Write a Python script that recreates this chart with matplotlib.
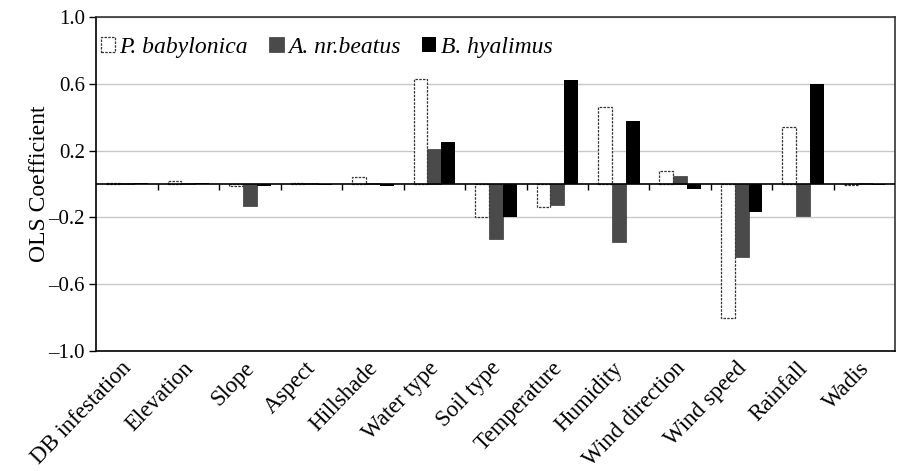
import numpy as np
import matplotlib
matplotlib.use("Agg")
import matplotlib.pyplot as plt

plt.rcParams['font.family'] = ['Liberation Serif', 'DejaVu Serif']

categories = ["DB infestation", "Elevation", "Slope", "Aspect", "Hillshade",
              "Water type", "Soil type", "Temperature", "Humidity",
              "Wind direction", "Wind speed", "Rainfall", "Wadis"]

p_babylonica = [0.005, 0.015, -0.01, 0.005, 0.044, 0.63, -0.20, -0.136,
                0.46, 0.08, -0.80, 0.34, -0.005]
a_beatus = [0.003, 0.005, -0.13, 0.003, 0.005, 0.21, -0.33, -0.125,
            -0.35, 0.046, -0.435, -0.19, 0.005]
b_hyalimus = [0.003, 0.003, -0.015, -0.005, -0.015, 0.253, -0.196, 0.623,
              0.377, -0.03, -0.17, 0.597, -0.008]

series_names = ["P. babylonica", "A. nr.beatus", "B. hyalimus"]

yticks = [-1.0, -0.6, -0.2, 0.2, 0.6, 1.0]
ytick_labels = ["\u20131.0", "\u20130.6", "\u20130.2", "0.2", "0.6", "1.0"]

fig = plt.figure(figsize=(8.99, 4.71), dpi=100)
ax = fig.add_axes([0.107, 0.255, 0.889, 0.709])

x = np.arange(len(categories))
w = 0.225

ax.bar(x - w, p_babylonica, w, facecolor='white', edgecolor='#333333',
       linestyle=(0, (2, 1)), linewidth=0.9, label=series_names[0], zorder=3)
ax.bar(x, a_beatus, w, color='#4a4a4a', edgecolor='#3a3a3a', linewidth=0.5,
       label=series_names[1], zorder=3)
ax.bar(x + w, b_hyalimus, w, color='black', label=series_names[2], zorder=3)

# zero line with group separator ticks
ax.axhline(0, color='black', linewidth=1.2, zorder=4)
ax.vlines(x[1:] - 0.5, -0.035, 0, color='black', linewidth=1.0, zorder=4)

ax.set_ylim(-1.0, 1.0)
ax.set_xlim(-0.5, len(categories) - 0.5)
ax.set_yticks(yticks)
ax.set_yticklabels(ytick_labels, fontsize=15)
ax.yaxis.grid(True, color='#c8c8c8', linewidth=1.0, zorder=0)
ax.set_axisbelow(True)
ax.tick_params(axis='y', direction='out', length=5, width=1, pad=3)

ax.set_xticks(x - 0.1)
ax.set_xticklabels(categories, rotation=46, ha='right', rotation_mode='anchor',
                   fontsize=16.5)
ax.tick_params(axis='x', length=0, pad=5)

for s in ax.spines.values():
    s.set_linewidth(1.2)
ax.spines['top'].set_color('#333333')
ax.spines['right'].set_color('#333333')

ax.set_ylabel("OLS Coefficient", fontsize=17, labelpad=-1)

leg = ax.legend(loc='upper left', ncol=3, frameon=False,
                prop={'family': 'Liberation Serif', 'style': 'italic', 'size': 17},
                handlelength=0.6, handleheight=0.6, handletextpad=0.2,
                columnspacing=0.9, bbox_to_anchor=(-0.015, 0.99),
                borderaxespad=0.3)

fig.savefig("out.png", dpi=100)
